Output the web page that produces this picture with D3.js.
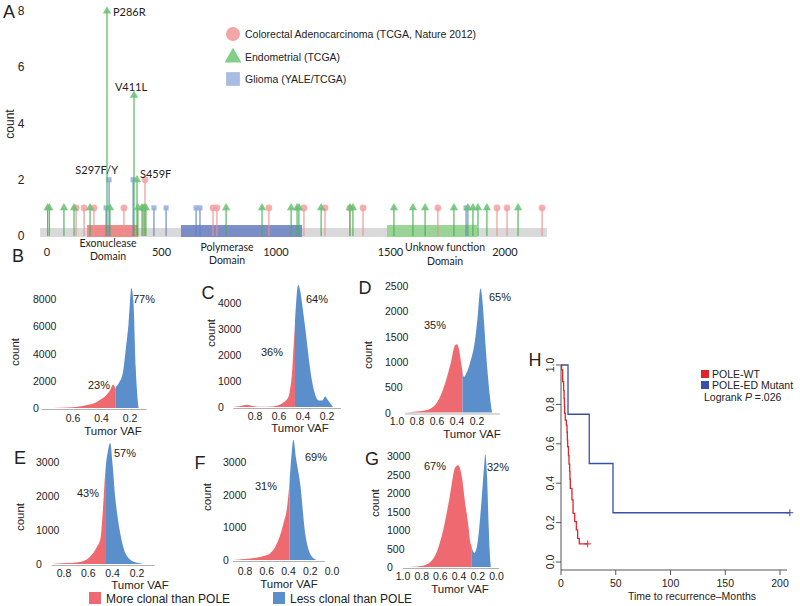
<!DOCTYPE html>
<html><head><meta charset="utf-8">
<script src="https://cdn.jsdelivr.net/npm/d3@7"></script>
<style>
body{margin:0;background:#fff}
svg{display:block}
text{font-family:"Liberation Sans",Arial,Helvetica,sans-serif;fill:#222}
.my{font-family:Lato,"Liberation Sans",sans-serif}
</style></head>
<body><svg id="c" width="800" height="606"></svg>
<script>
// ---------------- DATA ----------------
// Panel A: lollipop (amino-acid position, count)
const colorectalPos = [127,162,205,336,419,428,725,742,969,1122,1214,1323,1380,1707,1965,2009,2162];
const colorectalCnt = [1,1,1,1,1,2,1,1,1,1,1,1,1,1,1,1,1];
const endometrialPos = [3,10,74,118,188,262,275,380,393,397,415,424,432,782,939,1066,1092,1100,1197,1323,1336,1515,1598,1651,1777,1838,1860,1882,1921,2057];
const endometrialCnt = [1,1,1,1,1,8,1,5,2,1,1,1,1,1,1,1,1,1,1,1,1,1,1,1,1,1,1,1,1,1];
const gliomaPos = [258,271,376,467,520,651,668,1830];
const gliomaCnt = [1,2,2,1,1,1,1,1];
const proteinRange = [-30, 2183];
const domainNames = [["Exonuclease","Domain"],["Polymerase","Domain"],["Unknow function","Domain"]];
const domainStart = [175, 585, 1485];
const domainEnd = [397, 1114, 1878];
const hotspotNames = ["P286R","V411L","S297F/Y","S459F"];
const hotspotPos = [262, 380, 271, 428];
const hotspotCnt = [8, 5, 2, 2];
const countTicksA = [0,2,4,6,8];
const posTicksA = [0,500,1000,1500,2000];
const legendA = ["Colorectal Adenocarcinoma (TCGA, Nature 2012)","Endometrial (TCGA)","Glioma (YALE/TCGA)"];

// Panels B-G: Tumor VAF density (red = more clonal than POLE, blue = less clonal)
const vafB_red = [0.82,0.69,0.60,0.51,0.44,0.41,0.37,0.34,0.32,0.31,0.30];
const cntB_red = [0,20,60,200,400,600,900,1300,1700,1600,1400];
const vafB_blue = [0.30,0.28,0.25,0.23,0.21,0.19,0.175,0.16,0.14];
const cntB_blue = [1550,1800,2600,4300,6200,8800,7600,3000,0];
const vafC_red = [0.98,0.92,0.87,0.82,0.75,0.65,0.57,0.52,0.51,0.49,0.48,0.467];
const cntC_red = [0,40,90,40,10,20,150,400,600,1400,2200,3200];
const vafC_blue = [0.467,0.44,0.425,0.40,0.375,0.35,0.325,0.30,0.27,0.24,0.215,0.20,0.175,0.15];
const cntC_blue = [3300,4700,4500,3700,2800,1800,1000,500,250,250,400,320,150,0];
const vafD_red = [0.92,0.8,0.7,0.6,0.55,0.5,0.46,0.42,0.40,0.38,0.36,0.345];
const cntD_red = [0,20,50,200,400,700,1000,1330,1350,1250,1000,800];
const vafD_blue = [0.345,0.33,0.31,0.27,0.22,0.19,0.165,0.15,0.13,0.11,0.09,0.07,0.05];
const cntD_blue = [800,700,760,980,1430,1960,2450,2300,1800,1200,700,300,0];
const vafE_red = [0.9,0.8,0.67,0.59,0.53,0.50,0.48,0.465,0.455];
const cntE_red = [0,20,60,200,500,750,1600,2500,2950];
const vafE_blue = [0.455,0.44,0.42,0.40,0.38,0.36,0.34,0.32,0.30,0.27,0.24,0.20,0.16,0.12];
const cntE_blue = [2950,3300,3560,2900,2000,1400,950,600,350,180,90,40,10,0];
const vafF_red = [0.91,0.8,0.7,0.62,0.57,0.51,0.45,0.41,0.39];
const cntF_red = [0,30,70,130,200,480,1070,1700,2400];
const vafF_blue = [0.39,0.37,0.355,0.33,0.29,0.25,0.20,0.16,0.14];
const cntF_blue = [2400,3300,3680,3100,2270,900,180,30,0];
const vafG_red = [1.0,0.9,0.8,0.71,0.64,0.57,0.5,0.44,0.41,0.37,0.34,0.30,0.28,0.27];
const cntG_red = [0,10,30,130,400,1000,1900,2700,2750,2430,1820,1100,670,580];
const vafG_blue = [0.27,0.255,0.24,0.22,0.20,0.16,0.13,0.12,0.10,0.085,0.07,0.06];
const cntG_blue = [590,450,380,450,700,1800,2800,3050,2400,1200,300,0];
const pctRed = ["23%","36%","35%","43%","31%","67%"];
const pctBlue = ["77%","64%","65%","57%","69%","32%"];
const legendBG = ["More clonal than POLE","Less clonal than POLE"];

// Panel H: Kaplan-Meier
const wtTime = [0.6,1.5,2.4,2.8,3.1,3.3,3.9,4.9,5.5,5.8,6.1,6.8,7.3,7.9,8.2,8.5,10,11,12.5,14,15.2,16.7];
const wtSurv = [0.975,0.916,0.87,0.83,0.79,0.755,0.72,0.695,0.66,0.62,0.585,0.54,0.497,0.46,0.42,0.374,0.315,0.247,0.205,0.163,0.12,0.092];
const wtCensor = 24.4;
const mutTime = [6.4,25.8,47.5];
const mutSurv = [0.75,0.5,0.25];
const mutCensor = 209;
const kmXTicks = [0,50,100,150,200];
const kmYTicks = [0,0.2,0.4,0.6,0.8,1.0];
const kmLegend = ["POLE-WT","POLE-ED Mutant"];

// ---------------- DRAW ----------------
const svg = d3.select("#c");
const RED = "#ee6a70", BLUE = "#5b8fcb";

function letter(t,x,y){ svg.append("text").attr("x",x).attr("y",y).attr("text-anchor","middle").attr("dominant-baseline","central").style("font-size","18px").text(t); }

// ===== Panel A =====
const xA = d3.scaleLinear().domain([0,2000]).range([47,505]);
const yA = d3.scaleLinear().domain([0,8]).range([236,11]);
const gA = svg.append("g");
letter("A",9,12);
gA.selectAll(".yt").data(countTicksA).join("text").attr("x",21).attr("y",d=>yA(d)).attr("text-anchor","middle").attr("dominant-baseline","central").style("font-size","12px").text(d=>d);
gA.append("text").attr("transform","translate(10,124) rotate(-90)").attr("text-anchor","middle").attr("dominant-baseline","central").style("font-size","12px").text("count");
gA.selectAll(".xt").data(posTicksA).join("text").attr("class","my").attr("x",d=>xA(d)).attr("y",251).attr("text-anchor","middle").attr("dominant-baseline","central").style("font-size","11px").text(d=>d);
// backbone
gA.append("rect").attr("x",xA(proteinRange[0])).attr("width",xA(proteinRange[1])-xA(proteinRange[0])).attr("y",228).attr("height",9).attr("fill","#d9d9d9");
const domCols = ["#ee7f82","#7084c3","#93d08d"];
const domLabelShift = [-4.5,-14.5,13];
domainStart.forEach((s,i)=>{
  gA.append("rect").attr("x",xA(s)).attr("width",xA(domainEnd[i])-xA(s)).attr("y",225).attr("height",12).attr("fill",domCols[i]).attr("opacity",0.9);
  const cx = (xA(s)+xA(domainEnd[i]))/2 + domLabelShift[i];
  const y1 = i===0?243:247;
  gA.append("text").attr("class","my").attr("x",cx).attr("y",y1).attr("text-anchor","middle").attr("dominant-baseline","central").style("font-size","10.5px").text(domainNames[i][0]);
  gA.append("text").attr("class","my").attr("x",cx).attr("y",y1+(i===2?14:13)).attr("text-anchor","middle").attr("dominant-baseline","central").style("font-size","10.5px").text(domainNames[i][1]);
});
function lolli(pos,cnt,stroke,fill,type,size){
  const g = gA.append("g");
  pos.forEach((p,i)=>{
    g.append("line").attr("x1",xA(p)).attr("x2",xA(p)).attr("y1",yA(0)).attr("y2",yA(cnt[i])).attr("stroke",stroke).attr("stroke-width",1.1);
  });
  pos.forEach((p,i)=>{
    g.append("path").attr("d",d3.symbol().type(type).size(size)()).attr("transform",`translate(${xA(p)},${yA(cnt[i])})`).attr("fill",fill).attr("opacity",0.85);
  });
}
lolli(colorectalPos,colorectalCnt,"#ef9090","#f5a0a0",d3.symbolCircle,36);
lolli(gliomaPos,gliomaCnt,"#5f83c8","#93abdd",d3.symbolSquare,26);
lolli(endometrialPos,endometrialCnt,"#45b152","#66c271",d3.symbolTriangle,30);
// hotspot labels
const hsOff = [[6,5,"start"],[-3,-4,"middle"],[9,-6,"end"],[-5,-2,"start"]];
hotspotNames.forEach((n,i)=>{
  gA.append("text").attr("class","my").attr("x",xA(hotspotPos[i])+hsOff[i][0]).attr("y",yA(hotspotCnt[i])+hsOff[i][1]).attr("text-anchor",hsOff[i][2]).style("font-size","11px").text(n);
});
// legend A
const lgTypes = [d3.symbolCircle,d3.symbolTriangle,d3.symbolSquare];
const lgFill = ["#f5a5a5","#80cf88","#a9bde3"];
const lgSize = [154,125,190];
legendA.forEach((t,i)=>{
  const y = 34 + i*22.5;
  gA.append("path").attr("d",d3.symbol().type(lgTypes[i]).size(lgSize[i])()).attr("transform",`translate(233,${y+(i===1?1:0)})`).attr("fill",lgFill[i]);
  gA.append("text").attr("x",245).attr("y",y).attr("dominant-baseline","central").style("font-size","10.5px").text(t);
});

// ===== Panels B-G =====
const panels = [
  {L:"B",lx:18,ly:256, xd:[0.6,0.2],xr:[73,130], ymax:8000,yr:[408,299], yt:d3.range(0,8001,2000), ylx:33, cx:15, cy:352, xt:[0.6,0.4,0.2], xty:418, vx:113, vy:431, pr:[99,385], pb:[144,299], vr:vafB_red,cr:cntB_red,vb:vafB_blue,cb:cntB_blue},
  {L:"C",lx:208,ly:293, xd:[0.8,0.2],xr:[255,327], ymax:4000,yr:[407,303], yt:d3.range(0,4001,1000), ylx:218, cx:211, cy:333, xt:[0.8,0.6,0.4,0.2], xty:416, vx:300, vy:428, pr:[272,352], pb:[317,299], vr:vafC_red,cr:cntC_red,vb:vafC_blue,cb:cntC_blue},
  {L:"D",lx:365,ly:288, xd:[1.0,0.2],xr:[397,477], ymax:2500,yr:[412.5,286], yt:d3.range(0,2501,500), ylx:385, cx:368, cy:355, xt:[1.0,0.8,0.6,0.4,0.2], xty:421, vx:472, vy:434, pr:[435,325], pb:[500,297], vr:vafD_red,cr:cntD_red,vb:vafD_blue,cb:cntD_blue},
  {L:"E",lx:20,ly:458, xd:[0.8,0.2],xr:[64,137], ymax:3000,yr:[564,462], yt:d3.range(0,3001,1000), ylx:36, cx:20, cy:517, xt:[0.8,0.6,0.4,0.2], xty:573, vx:140, vy:585, pr:[88,493], pb:[125,453], vr:vafE_red,cr:cntE_red,vb:vafE_blue,cb:cntE_blue},
  {L:"F",lx:200,ly:463, xd:[0.8,0.0],xr:[245,332], ymax:3000,yr:[560,462], yt:d3.range(0,3001,1000), ylx:223, cx:207, cy:497, xt:[0.8,0.6,0.4,0.2,0.0], xty:571, vx:289, vy:584, pr:[266,486], pb:[316,457], vr:vafF_red,cr:cntF_red,vb:vafF_blue,cb:cntF_blue},
  {L:"G",lx:372,ly:459, xd:[1.0,0.0],xr:[403,496.5], ymax:3000,yr:[567,456], yt:d3.range(0,3001,500), ylx:387, cx:375, cy:503, xt:[1.0,0.8,0.6,0.4,0.2,0.0], xty:576, vx:460, vy:589, pr:[435,466], pb:[498,467], vr:vafG_red,cr:cntG_red,vb:vafG_blue,cb:cntG_blue}
];
panels.forEach((p,pi)=>{
  const g = svg.append("g");
  const xs = d3.scaleLinear().domain(p.xd).range(p.xr);
  const ys = d3.scaleLinear().domain([0,p.ymax]).range(p.yr);
  letter(p.L,p.lx,p.ly);
  const area = d3.area().x(d=>xs(d[0])).y0(ys(0)).y1(d=>ys(d[1])).curve(d3.curveMonotoneX);
  g.append("path").attr("d",area(p.vr.map((v,i)=>[v,p.cr[i]]))).attr("fill",RED);
  g.append("path").attr("d",area(p.vb.map((v,i)=>[v,p.cb[i]]))).attr("fill",BLUE);
  // baseline
  g.append("line").attr("x1",xs(p.vr[0])).attr("x2",xs(p.vb[p.vb.length-1])+8).attr("y1",ys(0)+1.5).attr("y2",ys(0)+1.5).attr("stroke","#b0b0b0").attr("stroke-width",1);
  // y ticks (left-aligned labels)
  g.selectAll(".yt").data(p.yt).join("text").attr("x",p.ylx).attr("y",d=>ys(d)).attr("text-anchor","start").attr("dominant-baseline","central").style("font-size","10.5px").text(d=>d);
  g.append("text").attr("transform",`translate(${p.cx},${p.cy}) rotate(-90)`).attr("text-anchor","middle").attr("dominant-baseline","central").style("font-size","11.5px").text("count");
  // x ticks
  g.selectAll(".xt").data(p.xt).join("text").attr("x",d=>xs(d)).attr("y",p.xty).attr("text-anchor","middle").attr("dominant-baseline","central").style("font-size","10.5px").text(d=>d3.format(".1f")(d));
  g.append("text").attr("x",p.vx).attr("y",p.vy).attr("text-anchor","middle").attr("dominant-baseline","central").style("font-size","11.5px").text("Tumor VAF");
  g.append("text").attr("x",p.pr[0]).attr("y",p.pr[1]).attr("text-anchor","middle").attr("dominant-baseline","central").style("font-size","11px").attr("fill","#333").text(pctRed[pi]);
  g.append("text").attr("x",p.pb[0]).attr("y",p.pb[1]).attr("text-anchor","middle").attr("dominant-baseline","central").style("font-size","11px").attr("fill","#333").text(pctBlue[pi]);
});
// bottom legend
[[89,RED],[273,BLUE]].forEach((d,i)=>{
  svg.append("rect").attr("x",d[0]).attr("y",592).attr("width",12).attr("height",12).attr("fill",d[1]);
  svg.append("text").attr("x",d[0]+17).attr("y",603).style("font-size","12px").text(legendBG[i]);
});

// ===== Panel H =====
const gH = svg.append("g");
letter("H",535,360);
const xH = d3.scaleLinear().domain([0,200]).range([561,780]);
const yH = d3.scaleLinear().domain([0,1]).range([562,365]);
gH.append("line").attr("x1",561).attr("x2",561).attr("y1",yH(1)).attr("y2",570).attr("stroke","#555");
gH.append("line").attr("x1",xH(0)).attr("x2",xH(200)+7).attr("y1",570).attr("y2",570).attr("stroke","#555");
kmYTicks.forEach(v=>{
  gH.append("line").attr("x1",556).attr("x2",561).attr("y1",yH(v)).attr("y2",yH(v)).attr("stroke","#555");
  gH.append("text").attr("transform",`translate(550,${yH(v)}) rotate(-90)`).attr("text-anchor","middle").attr("dominant-baseline","central").style("font-size","10.5px").text(d3.format(".1f")(v));
});
kmXTicks.forEach(v=>{
  gH.append("line").attr("x1",xH(v)).attr("x2",xH(v)).attr("y1",570).attr("y2",575).attr("stroke","#555");
  gH.append("text").attr("x",xH(v)).attr("y",583).attr("text-anchor","middle").attr("dominant-baseline","central").style("font-size","10.5px").text(v);
});
gH.append("text").attr("x",692).attr("y",596).attr("text-anchor","middle").attr("dominant-baseline","central").style("font-size","10.5px").text("Time to recurrence\u2013Months");
const stepLine = d3.line().x(d=>xH(d[0])).y(d=>yH(d[1])).curve(d3.curveStepAfter);
function km(times,surv,end,color){
  const pts = [[0,1]].concat(times.map((t,i)=>[t,surv[i]])).concat([[end,surv[surv.length-1]]]);
  gH.append("path").attr("d",stepLine(pts)).attr("fill","none").attr("stroke",color).attr("stroke-width",1.3);
  const cx = xH(end), cy = yH(surv[surv.length-1]);
  gH.append("path").attr("d",`M${cx-3.5},${cy}H${cx+3.5}M${cx},${cy-3.5}V${cy+3.5}`).attr("stroke",color).attr("stroke-width",1);
}
km(mutTime,mutSurv,mutCensor,"#3a4fa6");
km(wtTime,wtSurv,wtCensor,"#e0242c");
[["#e0242c",374],["#3a4fa6",385]].forEach((d,i)=>{
  gH.append("rect").attr("x",701).attr("y",d[1]-4).attr("width",8).attr("height",8).attr("fill",d[0]);
  gH.append("text").attr("x",712).attr("y",d[1]).attr("dominant-baseline","central").style("font-size","10.5px").text(kmLegend[i]);
});
const lr = gH.append("text").attr("x",704).attr("y",397).attr("dominant-baseline","central").style("font-size","10.5px");
lr.append("tspan").text("Logrank ");
lr.append("tspan").style("font-style","italic").text("P");
lr.append("tspan").text(" =.026");
</script>
</body></html>
